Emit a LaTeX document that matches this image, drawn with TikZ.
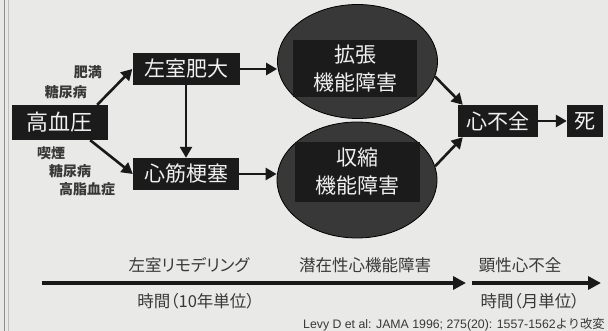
\documentclass[tikz,border=0pt]{standalone}
\usepackage{fontspec}
\setmainfont{Liberation Sans}
\newfontfamily\jp{Noto Sans CJK JP}
\newfontfamily\jpp{Noto Sans CJK JP}[RawFeature=+palt]
\usetikzlibrary{arrows.meta,shapes.geometric}
\definecolor{bg}{HTML}{E9E9E7}
\definecolor{boxc}{HTML}{1B1B1B}
\definecolor{ellc}{HTML}{383838}
\definecolor{txtc}{HTML}{F0F0F0}
\definecolor{lab}{HTML}{383838}
\begin{document}
\begin{tikzpicture}[x=1pt,y=-1pt,
  darkbox/.style={fill=boxc, text=txtc, inner sep=0pt, font=\jp\fontsize{21}{28}\selectfont},
  ell/.style={ellipse, fill=ellc, draw=black, line width=0.8pt, inner sep=0pt},
  arr/.style={line width=2.6pt, draw=black!90, -{Triangle[length=11pt,width=12pt]}},
  tlarr/.style={line width=3.4pt, draw=black!90, -{Triangle[length=13pt,width=13pt]}},
  risk/.style={text=lab, inner sep=0pt, font=\jp\bfseries\fontsize{14}{16}\selectfont},
  tl/.style={text=lab, inner sep=0pt, font=\jpp\fontsize{16.5}{19}\selectfont},
]
\useasboundingbox (0,0) rectangle (608,331);
\clip (0,0) rectangle (608,331);
\fill[bg] (0,0) rectangle (608,331);
\draw[black!45, line width=1pt] (4.5,0) -- (4.5,331);
\draw[black!25, line width=0.8pt] (8,0) -- (8,331);

% main boxes
\node[darkbox, minimum width=96pt, minimum height=35pt, font=\jp\fontsize{22}{26}\selectfont] (hbp) at (60,122.5) {高血圧};
\node[darkbox, minimum width=107pt, minimum height=32pt] (lvh) at (186,69) {左室肥大};
\node[darkbox, minimum width=106pt, minimum height=32pt] (mi) at (186,174) {心筋梗塞};

% ellipses
\node[ell, minimum width=160pt, minimum height=114pt] (e1) at (357.5,61.5) {};
\node[ell, minimum width=160pt, minimum height=116pt] (e2) at (357,180) {};
\node[darkbox, minimum width=124pt, minimum height=57pt, align=center] (r1) at (355,68.5) {拡張\\機能障害};
\node[darkbox, minimum width=125pt, minimum height=60pt, align=center] (r2) at (357.5,172) {収縮\\機能障害};

\node[darkbox, minimum width=80pt, minimum height=32pt] (hf) at (498,121) {心不全};
\node[darkbox, minimum width=36pt, minimum height=32pt] (death) at (585,121) {死};

% risk factor labels
\node[risk, anchor=east] (robes) at (102,72) {肥満};
\node[risk, anchor=east] (rdma) at (87,92) {糖尿病};
\node[risk, anchor=west] (rsmk) at (37,153) {喫煙};
\node[risk, anchor=west] (rdmb) at (49,171) {糖尿病};
\node[risk, anchor=west] (rhl) at (59,189) {高脂血症};

% connectors
\draw[arr] ([xshift=-11pt]hbp.north east) -- (lvh.west);
\draw[arr] ([xshift=-18pt]hbp.south east) -- (mi.west);
\draw[arr] (lvh) -- (mi);
\draw[arr] (lvh) -- (lvh -| e1.west);
\draw[arr] (mi) -- (mi -| e2.west);
\draw[arr] (e1.-11) -- ([xshift=5pt]hf.north west);
\draw[arr] (e2.10) -- ([xshift=5pt]hf.south west);
\draw[arr] (hf) -- (death);

% timeline
\coordinate (tas) at (42,283);
\coordinate (tae) at (466,283);
\coordinate (tbs) at (472,283);
\coordinate (tbe) at (601,283);
\draw[tlarr] (tas) -- (tae);
\draw[tlarr] (tbs) -- (tbe);
\node[tl] (la) at (189,265) {左室リモデリング};
\node[tl] (lb) at (365,265) {潜在性心機能障害};
\node[tl] (lc) at (520,265) {顕性心不全};
\node[tl] (ld) at (196,301) {時間（10年単位）};
\node[tl] (le) at (530,301) {時間（月単位）};

\node[anchor=west, text=lab, inner sep=0pt, font=\fontsize{12.3}{14}\selectfont] (cite) at (303,325) {Levy D et al: JAMA 1996; 275(20): 1557-1562{\jp より改変}};
\end{tikzpicture}
\end{document}
